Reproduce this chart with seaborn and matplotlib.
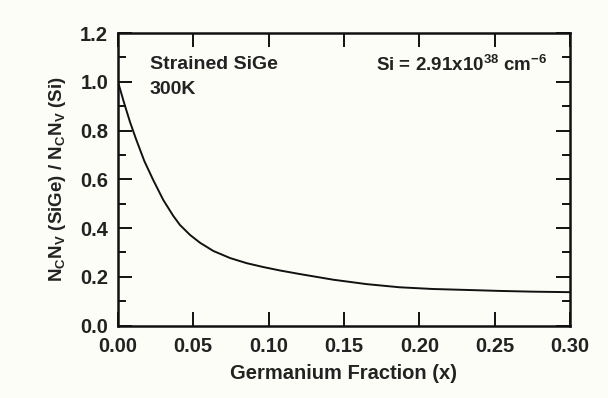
import matplotlib
matplotlib.use("Agg")
import matplotlib.pyplot as plt
import seaborn as sns
import pandas as pd
from matplotlib.ticker import MultipleLocator

# Data
ge_fraction = [0.0, 0.004, 0.008, 0.012, 0.0175, 0.0234, 0.0301, 0.0367,
               0.0411, 0.0478, 0.0544, 0.0633, 0.0744, 0.0854, 0.0965,
               0.1075, 0.121, 0.143, 0.165, 0.187, 0.209, 0.232, 0.254,
               0.276, 0.300]
ratio = [1.0, 0.915, 0.835, 0.765, 0.675, 0.597, 0.515, 0.450,
         0.413, 0.372, 0.340, 0.306, 0.277, 0.256, 0.240,
         0.226, 0.211, 0.188, 0.170, 0.157, 0.150, 0.146, 0.142,
         0.139, 0.137]
xticks = [0.00, 0.05, 0.10, 0.15, 0.20, 0.25, 0.30]
yticks = [0.0, 0.2, 0.4, 0.6, 0.8, 1.0, 1.2]

df = pd.DataFrame({"x": ge_fraction, "y": ratio})

sns.set_theme(style="ticks")
plt.rcParams['font.family'] = ['Liberation Sans', 'DejaVu Sans']
plt.rcParams['font.weight'] = 'bold'
plt.rcParams['mathtext.default'] = 'regular'

bg = '#fdfdf8'
fig = plt.figure(figsize=(6.08, 3.98), dpi=100, facecolor=bg)
ax = fig.add_axes([0.194, 0.182, 0.7435, 0.735])
ax.set_facecolor(bg)

sns.lineplot(data=df, x="x", y="y", ax=ax, color='#111111', linewidth=1.4)

ax.set_xlim(0, 0.30)
ax.set_ylim(0, 1.2)
ax.set_xticks(xticks)
ax.set_yticks(yticks)
ax.set_xticklabels([f"{v:.2f}" for v in xticks], fontsize=14.5, fontweight='bold')
ax.set_yticklabels([f"{v:.1f}" for v in yticks], fontsize=14.5, fontweight='bold')
ax.yaxis.set_minor_locator(MultipleLocator(0.1))

ax.tick_params(which='major', direction='in', length=10, width=1.4,
               top=True, right=True, colors='#111111', labelcolor='#222222')
ax.tick_params(axis='x', pad=8)
ax.tick_params(axis='y', pad=7)
ax.tick_params(which='minor', direction='in', length=6, width=1.4,
               left=True, right=True, colors='#111111')
for s in ax.spines.values():
    s.set_linewidth(1.8)
    s.set_color('#111111')

ax.set_xlabel("Germanium Fraction (x)", fontsize=14.5, fontweight='bold',
              color='#222222', labelpad=6)
ax.set_ylabel(r"N$_C$N$_V$ (SiGe) / N$_C$N$_V$ (Si)", fontsize=13.5,
              fontweight='bold', color='#222222', labelpad=9)

ax.text(0.0212, 1.052, "Strained SiGe", fontsize=14, fontweight='bold',
        color='#222222', va='baseline', ha='left')
ax.text(0.0212, 0.950, "300K", fontsize=14, fontweight='bold',
        color='#222222', va='baseline', ha='left')
ax.text(0.171, 1.045, r"Si = 2.91x10$^{38}$ cm$^{-6}$", fontsize=13.5,
        fontweight='bold', color='#222222', va='baseline', ha='left')

fig.savefig("out.png", dpi=100, facecolor=bg)
